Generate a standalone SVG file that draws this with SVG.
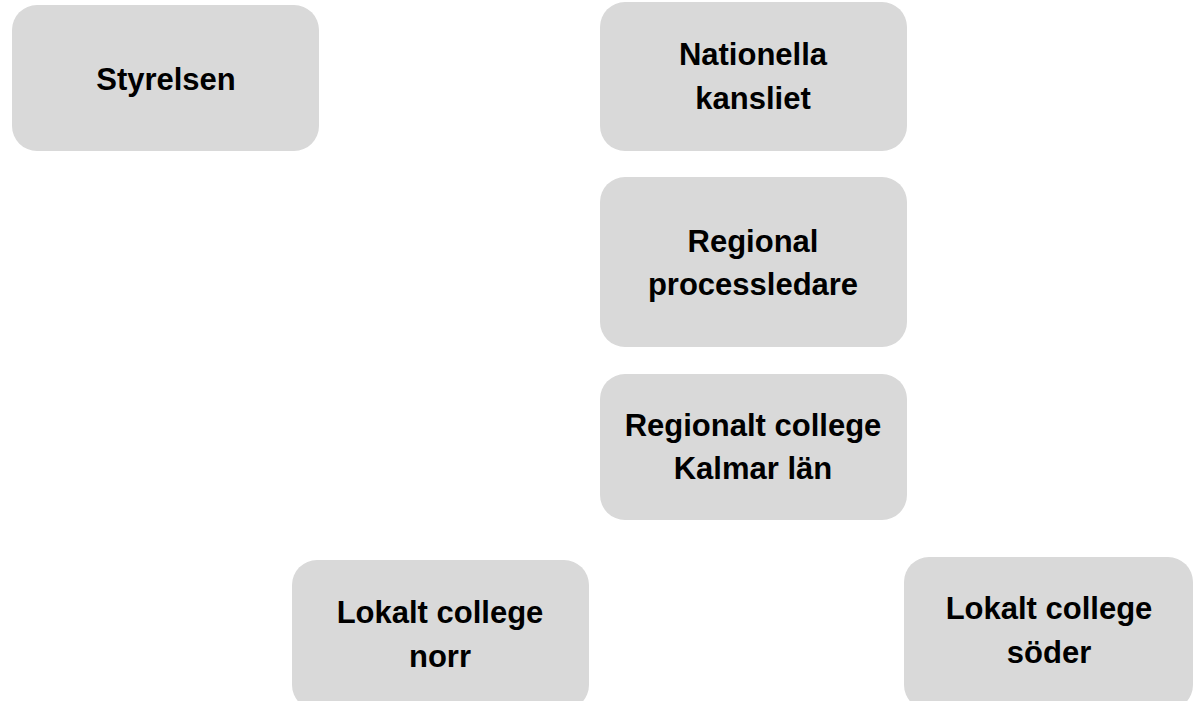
<svg xmlns="http://www.w3.org/2000/svg" width="1198" height="701" viewBox="0 0 1198 701">
<style>
.box{fill:#d9d9d9;}
.t{font-family:"Liberation Sans",Arial,sans-serif;font-weight:bold;font-size:31px;fill:#000;text-anchor:middle;}
</style>
<rect width="1198" height="701" fill="#fff"/>
<g id="connectors"></g>
<g id="styrelsen"><rect class="box" x="12" y="5" width="307" height="146" rx="25"/><text class="t" x="166" y="90">Styrelsen</text></g>
<g id="nationella"><rect class="box" x="600" y="2" width="307" height="149" rx="25"/><text class="t" x="753" y="65">Nationella</text><text class="t" x="753" y="109">kansliet</text></g>
<g id="processledare"><rect class="box" x="600" y="177" width="307" height="170" rx="25"/><text class="t" x="753" y="252">Regional</text><text class="t" x="753" y="295">processledare</text></g>
<g id="regionalt"><rect class="box" x="600" y="374" width="307" height="146" rx="25"/><text class="t" x="753" y="436">Regionalt college</text><text class="t" x="753" y="479">Kalmar län</text></g>
<g id="norr"><rect class="box" x="292" y="560" width="297" height="150" rx="25"/><text class="t" x="440" y="623">Lokalt college</text><text class="t" x="440" y="667">norr</text></g>
<g id="soder"><rect class="box" x="904" y="557" width="289" height="153" rx="25"/><text class="t" x="1049" y="619">Lokalt college</text><text class="t" x="1049" y="663">söder</text></g>
</svg>
